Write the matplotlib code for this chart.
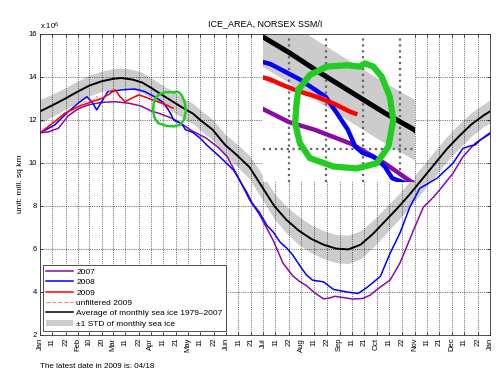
import matplotlib
matplotlib.use('Agg')
import matplotlib.pyplot as plt
from matplotlib.lines import Line2D
from matplotlib.patches import Patch

plt.rcParams['font.family'] = ['Liberation Sans', 'DejaVu Sans']
plt.rcParams['mathtext.default'] = 'regular'

# x axis: day of year, ticks at month start / ~11th / ~21st
tick_days = [0, 10, 21, 31, 40, 50, 59, 69, 80, 90, 100, 110, 120, 130, 141, 151, 161, 171,
             181, 191, 202, 212, 222, 233, 243, 253, 263, 273, 283, 294, 304, 314, 324, 334,
             344, 355, 365]
tick_labels = ['Jan', '11', '22', 'Feb', '10', '20', 'Mar', '11', '22', 'Apr', '11', '21',
               'May', '11', '22', 'Jun', '11', '21', 'Jul', '11', '22', 'Aug', '11', '22',
               'Sep', '11', '21', 'Oct', '11', '22', 'Nov', '11', '21', 'Dec', '11', '22', 'Jan']

# average 1979-2007 and its std (mill. sq km)
avg_days = [0, 10, 20, 30, 40, 50, 60, 66, 75, 83, 90, 98, 107, 116, 124, 130, 140, 150, 160,
            170, 180, 190, 200, 210, 220, 230, 240, 250, 260, 270, 280, 290, 300, 310, 320,
            330, 340, 350, 360, 365]
avg_vals = [12.4, 12.68, 12.98, 13.3, 13.6, 13.8, 13.92, 13.95, 13.88, 13.74, 13.5, 13.2,
            12.88, 12.56, 12.3, 12.0, 11.55, 10.85, 10.35, 9.8, 8.9, 8.0, 7.35, 6.85, 6.47,
            6.2, 6.02, 5.98, 6.2, 6.7, 7.3, 7.9, 8.55, 9.25, 9.95, 10.65, 11.25, 11.8, 12.22,
            12.4]
std_vals = [0.55, 0.52, 0.5, 0.5, 0.48, 0.47, 0.47, 0.47, 0.47, 0.47, 0.47, 0.47, 0.47, 0.47,
            0.47, 0.47, 0.48, 0.5, 0.52, 0.55, 0.58, 0.6, 0.62, 0.65, 0.65, 0.65, 0.65, 0.66,
            0.65, 0.63, 0.62, 0.6, 0.6, 0.6, 0.6, 0.58, 0.57, 0.55, 0.52, 0.55]

days_2007 = [0, 7, 15, 23, 31, 39, 50, 61, 72, 82, 90, 97, 107, 116, 123, 130, 135, 145, 152,
             162, 170, 178, 189, 197, 205, 211, 216, 223, 230, 235, 239, 245, 254, 262, 268,
             273, 284, 292, 303, 311, 319, 324, 335, 343, 353, 358, 365]
ice_2007 = [11.4, 11.45, 11.62, 12.2, 12.52, 12.7, 12.82, 12.85, 12.78, 12.65, 12.42, 12.3,
            12.08, 11.78, 11.5, 11.3, 11.15, 10.7, 10.28, 9.2, 8.28, 7.6, 6.42, 5.35, 4.75,
            4.47, 4.3, 3.95, 3.68, 3.72, 3.8, 3.75, 3.67, 3.7, 3.86, 4.1, 4.56, 5.35, 6.88,
            7.95, 8.4, 8.74, 9.52, 10.29, 10.92, 11.1, 11.35]

days_2008 = [0, 12, 23, 31, 38, 42, 46, 50, 55, 66, 77, 85, 93, 100, 103, 106, 108, 110, 113,
             116, 118, 124, 130, 135, 146, 157, 168, 172, 178, 184, 189, 195, 200, 205, 211,
             216, 221, 230, 238, 249, 258, 265, 276, 284, 292, 300, 308, 322, 335, 343, 349,
             353, 357, 365]
ice_2008 = [11.4, 11.77, 12.39, 12.78, 13.08, 12.85, 12.47, 12.85, 13.32, 13.4, 13.44, 13.32,
            13.08, 12.81, 12.56, 12.3, 12.04, 11.94, 11.88, 11.73, 11.55, 11.42, 11.15, 10.85,
            10.28, 9.67, 8.6, 8.14, 7.7, 7.1, 6.8, 6.3, 6.05, 5.72, 5.2, 4.8, 4.55, 4.47, 4.12,
            4.0, 3.93, 4.2, 4.72, 5.8, 6.75, 7.95, 8.82, 9.29, 9.99, 10.68, 10.79, 10.84,
            11.07, 11.4]

days_2009 = [0, 12, 20, 31, 42, 50, 55, 61, 65, 69, 74, 80, 85, 88.5, 93, 97.6, 102, 106.6, 108]
ice_2009 = [11.4, 11.92, 12.31, 12.62, 12.85, 13.0, 13.16, 13.4, 13.08, 12.85, 13.0, 13.16,
            13.08, 12.99, 12.89, 12.81, 12.71, 12.58, 12.55]

days_unf = [0, 6, 12, 20, 26, 31, 36, 42, 46, 47, 50, 55, 58, 61, 65, 69, 74, 80, 85, 90, 95,
            100, 104, 108]
ice_unf = [11.4, 11.7, 11.95, 12.3, 12.45, 12.62, 12.85, 12.85, 13.1, 12.9, 13.0, 13.2, 13.45,
           13.4, 13.05, 12.85, 13.0, 13.2, 13.05, 12.95, 12.88, 12.78, 12.68, 12.55]

# hand drawn green ring (day, value)
ring_days = [92.6, 95.7, 100.3, 105.7, 109.3, 110.6, 112.9, 115.2, 117.4, 118.3, 117.0, 113.8,
             108.4, 102.1, 95.7, 93.0, 91.7, 92.1, 92.6]
ring_vals = [12.92, 13.15, 13.28, 13.3, 13.28, 13.33, 13.28, 13.12, 12.81, 12.45, 12.04, 11.78,
             11.7, 11.73, 11.86, 12.09, 12.4, 12.71, 12.92]

PURPLE = '#8a0aa6'
GREEN = '#22cc22'
GRAY = '#cccccc'


def draw_curves(ax, lw, lw_avg, lw_ring):
    lo = [a - s for a, s in zip(avg_vals, std_vals)]
    hi = [a + s for a, s in zip(avg_vals, std_vals)]
    ax.fill_between(avg_days, lo, hi, color=GRAY, lw=0)
    ax.plot(avg_days, avg_vals, color='k', lw=lw_avg)
    ax.plot(days_2007, ice_2007, color=PURPLE, lw=lw)
    ax.plot(days_2008, ice_2008, color='#0000ff', lw=lw)
    ax.plot(days_unf, ice_unf, color='#ff8080', lw=lw * 0.6, ls='--')
    ax.plot(days_2009, ice_2009, color='#ff0000', lw=lw)
    ax.plot(ring_days, ring_vals, color=GREEN, lw=lw_ring, solid_capstyle='round',
            solid_joinstyle='round')


def get_img():
    fig = plt.figure(figsize=(5, 3.75), dpi=100)
    ax = fig.add_axes([0.08, 0.1067, 0.9, 0.8027])
    draw_curves(ax, 1.1, 1.4, 1.8)

    ax.set_xlim(0, 365)
    ax.set_ylim(2, 16)
    ax.set_xticks(tick_days)
    ax.set_xticklabels(tick_labels, rotation=90, fontsize=5.5)
    ax.set_yticks(range(2, 17, 2))
    ax.tick_params(direction='in', top=True, right=True, length=2.5, width=0.5,
                   labelsize=5.5, pad=2)
    ax.grid(True, ls=':', color='k', lw=0.5)
    for s in ax.spines.values():
        s.set_linewidth(0.6)
        s.set_color('#333333')

    handles = [Line2D([], [], color=PURPLE, lw=1.1),
               Line2D([], [], color='#0000ff', lw=1.1),
               Line2D([], [], color='#ff0000', lw=1.1),
               Line2D([], [], color='#ff8080', lw=0.8, ls='--'),
               Line2D([], [], color='k', lw=1.1),
               Patch(facecolor=GRAY, edgecolor='none')]
    labels = ['2007', '2008', '2009', 'unfiltered 2009',
              'Average of monthly sea ice 1979\u20132007', '\u00b11 STD of monthly sea ice']
    leg = ax.legend(handles, labels, loc='lower left', bbox_to_anchor=(0.007, 0.013),
                    borderaxespad=0, fontsize=6, fancybox=False, framealpha=1,
                    edgecolor='#333333', labelspacing=0.3, handlelength=3.2,
                    handletextpad=0.4, borderpad=0.4)
    leg.get_frame().set_linewidth(0.6)

    # zoomed view of the ringed area
    axin = fig.add_axes([0.526, 0.5147, 0.304, 0.392])
    draw_curves(axin, 3.2, 3.6, 4.5)
    axin.set_xlim(83, 124.2)
    axin.set_ylim(11.49, 13.77)
    axin.set_xticks([90, 100, 110, 120])
    axin.set_yticks([12])
    axin.tick_params(length=0, labelbottom=False, labelleft=False)
    axin.grid(True, ls=':', color='#666666', lw=1.6)
    for s in axin.spines.values():
        s.set_visible(False)

    fig.text(0.53, 1 - 24 / 375, 'ICE_AREA, NORSEX SSM/I', ha='center', va='center',
             fontsize=6.5)
    fig.text(0.08, 1 - 29 / 375, r'x 10$^6$', fontsize=5.5, va='baseline')
    fig.text(0.042, 0.51, 'unit: mill. sq km', rotation=90, ha='center', va='center',
             fontsize=6)
    fig.text(0.08, 1 - 367 / 375, 'The latest date in 2009 is: 04/18', fontsize=5.8,
             va='center')

    fig.savefig('out.png', dpi=100)
    plt.close()


if __name__ == '__main__':
    get_img()
